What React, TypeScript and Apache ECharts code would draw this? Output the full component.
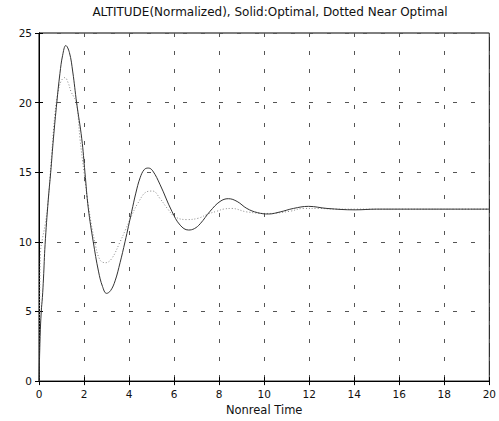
import React, { useEffect, useRef } from "react";
import * as echarts from "echarts";

const titleText = "ALTITUDE(Normalized), Solid:Optimal, Dotted Near Optimal";
const xName = "Nonreal Time";

const solidT = [0, 0.05, 0.1, 0.15, 0.2, 0.27, 0.41, 0.52, 0.64, 0.79, 0.93, 1.05, 1.19, 1.35, 1.5, 1.67, 1.9, 2.04, 2.19, 2.41, 2.64, 2.82, 3.0, 3.18, 3.38, 3.6, 3.82, 4.12, 4.3, 4.49, 4.68, 4.86, 5.05, 5.38, 5.9, 6.27, 6.64, 6.9, 7.16, 7.6, 8.04, 8.41, 8.8, 9.23, 9.7, 10.19, 10.71, 11.3, 11.97, 12.79, 14.04, 15, 16, 17, 18, 19, 20];
const solidV = [0, 3.2, 5, 6, 7.4, 9.8, 13, 15, 17.4, 20, 22.1, 23.4, 24.1, 23.6, 22.2, 20.0, 17.4, 15.0, 12.4, 10.0, 7.9, 6.8, 6.3, 6.5, 7.2, 8.5, 10.0, 12.2, 13.5, 14.6, 15.2, 15.3, 15.1, 14.1, 12.2, 11.2, 10.85, 10.95, 11.3, 12.2, 12.9, 13.1, 12.9, 12.4, 12.1, 12.0, 12.15, 12.4, 12.55, 12.4, 12.3, 12.35, 12.35, 12.35, 12.35, 12.35, 12.35];

const dottedT = [0, 0.03, 0.07, 0.15, 0.28, 0.4, 0.55, 0.71, 0.85, 1.0, 1.15, 1.3, 1.42, 1.55, 1.67, 1.82, 2.0, 2.2, 2.49, 2.71, 2.95, 3.23, 3.6, 3.85, 4.12, 4.4, 4.79, 5.05, 5.38, 5.7, 6.04, 6.56, 7.08, 7.5, 7.9, 8.19, 8.56, 9.23, 10.18, 11.15, 11.73, 12.4, 13.2, 14, 16, 18, 20];
const dottedV = [0, 6, 9.3, 10.2, 11.3, 12.8, 16.0, 19.2, 20.8, 21.6, 21.8, 21.4, 20.8, 20.4, 20.0, 17.4, 15.0, 12.5, 9.9, 8.7, 8.5, 8.8, 10.0, 10.9, 11.9, 12.8, 13.6, 13.65, 13.1, 12.4, 11.8, 11.6, 11.7, 12.0, 12.2, 12.35, 12.4, 12.15, 12.04, 12.2, 12.4, 12.4, 12.35, 12.35, 12.35, 12.35, 12.35];

const FONT = "DejaVu Sans";

export default function App() {
  const ref = useRef<HTMLDivElement>(null);
  useEffect(() => {
    if (!ref.current) return;
    const chart = echarts.init(ref.current, null, { renderer: "svg" });
    const solid = solidT.map((t, i) => [t, solidV[i]]);
    const dotted = dottedT.map((t, i) => [t, dottedV[i]]);
    const gridLine = { show: true, lineStyle: { color: "#555", width: 1, type: [4, 14] as any } };
    chart.setOption({
      animation: false,
      backgroundColor: "#fff",
      title: {
        text: titleText,
        left: 265,
        textAlign: "center",
        top: 1,
        textStyle: { fontFamily: FONT, fontSize: 12, fontWeight: "normal", color: "#111" },
      },
      grid: { left: 39, right: 9, top: 33, bottom: 37, show: true, borderColor: "#000", borderWidth: 1, backgroundColor: "transparent" },
      xAxis: [
        {
          type: "value", min: 0, max: 20, interval: 2,
          name: xName, nameLocation: "middle", nameGap: 21,
          nameTextStyle: { fontFamily: FONT, fontSize: 11.5, color: "#111" },
          axisLine: { show: true, lineStyle: { color: "#000" } },
          axisTick: { show: true, inside: true, length: 4, lineStyle: { color: "#000" } },
          axisLabel: { fontFamily: FONT, fontSize: 10.5, color: "#111", margin: 7 },
          splitLine: gridLine,
        },
        {
          type: "value", min: 0, max: 20, interval: 2, position: "top",
          axisLine: { show: true, lineStyle: { color: "#000" } },
          axisTick: { show: true, inside: true, length: 4, lineStyle: { color: "#000" } },
          axisLabel: { show: false }, splitLine: { show: false },
        },
      ],
      yAxis: [
        {
          type: "value", min: 0, max: 25, interval: 5,
          axisLine: { show: true, lineStyle: { color: "#000" } },
          axisTick: { show: true, inside: true, length: 4, lineStyle: { color: "#000" } },
          axisLabel: { fontFamily: FONT, fontSize: 10.5, color: "#111", margin: 7 },
          splitLine: gridLine,
        },
        {
          type: "value", min: 0, max: 25, interval: 5, position: "right",
          axisLine: { show: true, lineStyle: { color: "#000" } },
          axisTick: { show: true, inside: true, length: 4, lineStyle: { color: "#000" } },
          axisLabel: { show: false }, splitLine: { show: false },
        },
      ],
      series: [
        {
          name: "Near Optimal", type: "line", data: dotted, smooth: 0.4, showSymbol: false,
          lineStyle: { color: "#888", width: 1, type: [1, 2] as any },
          z: 2,
        },
        {
          name: "Optimal", type: "line", data: solid, smooth: 0.4, showSymbol: false,
          lineStyle: { color: "#333", width: 1 },
          z: 3,
        },
      ],
    });
    return () => chart.dispose();
  }, []);
  return <div ref={ref} style={{ width: 499, height: 421, position: "absolute", left: 0, top: 0 }} />;
}
